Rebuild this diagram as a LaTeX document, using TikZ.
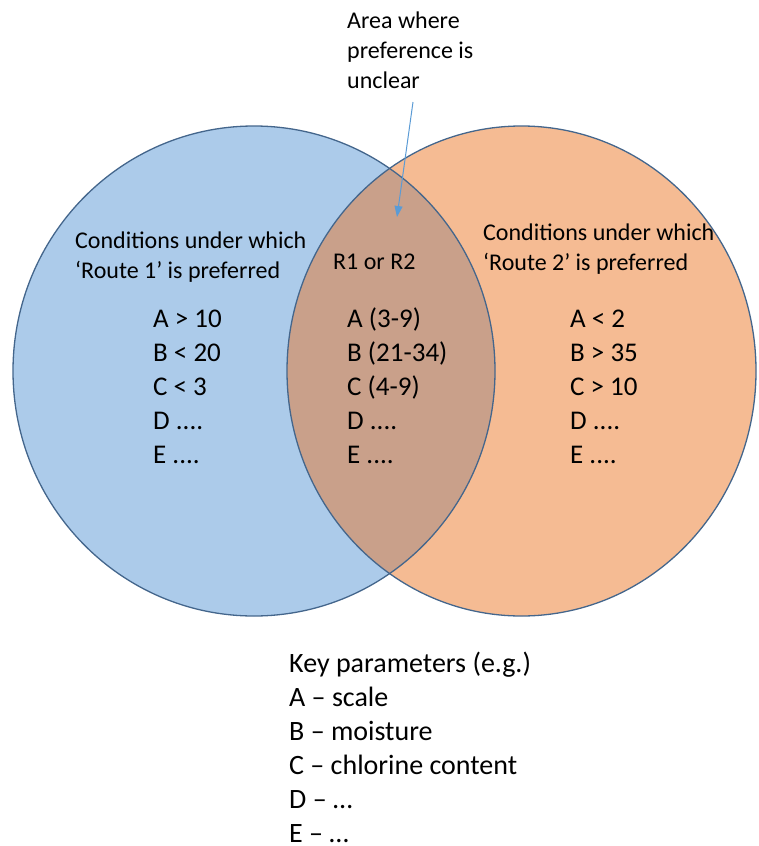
\documentclass[tikz,border=0pt]{standalone}
\usepackage{fontspec}
\setmainfont{Carlito}
\usetikzlibrary{arrows.meta}
\definecolor{lblue}{RGB}{172,203,234}
\definecolor{lorange}{RGB}{245,187,147}
\definecolor{lens}{RGB}{201,160,138}
\definecolor{outl}{RGB}{68,102,140}
\definecolor{arrowblue}{RGB}{91,155,213}
\tikzset{
  setline/.style={draw=outl, line width=1.3pt},
  txt/.style={anchor=north west, inner sep=0pt, align=left, text=black},
  condtxt/.style={txt, font=\fontsize{24}{29.5}\selectfont},
  valtxt/.style={txt, font=\fontsize{27}{34}\selectfont},
  keytxt/.style={txt, font=\fontsize{28}{34}\selectfont},
  pointer/.style={draw=arrowblue, line width=1pt, -{Triangle[length=11pt,width=8pt]}}
}
\newcommand{\toprule}{\rule{0pt}{22pt}}
\begin{document}
\begin{tikzpicture}[x=1pt,y=-1pt]
\useasboundingbox (0,0) rectangle (758,846);
% circles
\fill[lblue] (254,371) ellipse [x radius=241, y radius=245];
\fill[lorange] (521.5,371) ellipse [x radius=234.5, y radius=245];
\begin{scope}
  \clip (254,371) ellipse [x radius=241, y radius=245];
  \fill[lens] (521.5,371) ellipse [x radius=234.5, y radius=245];
\end{scope}
\path[setline] (254,371) ellipse [x radius=241, y radius=245];
\path[setline] (521.5,371) ellipse [x radius=234.5, y radius=245];
% top label and pointer
\node[condtxt, font=\fontsize{24}{30}\selectfont] (area) at (347,11.5) {Area where\\preference is\\unclear};
\coordinate (arrS) at (413,102);
\coordinate (arrE) at (397,217);
\draw[pointer] (arrS) -- (arrE);
% left set
\node[condtxt] (lcond) at (75,232) {Conditions under which\\‘Route 1’ is preferred};
\node[valtxt] (lval) at (153,305.5) {\toprule A > 10\\B < 20\\C < 3\\D ....\\E ....};
% middle
\node[condtxt] (mcond) at (333,253.5) {R1 or R2};
\node[valtxt] (mval) at (347,305.5) {\toprule A (3-9)\\B (21-34)\\C (4-9)\\D ....\\E ....};
% right set
\node[condtxt] (rcond) at (483,224) {Conditions under which\\‘Route 2’ is preferred};
\node[valtxt] (rval) at (570,305.5) {\toprule A < 2\\B > 35\\C > 10\\D ....\\E ....};
% key
\node[keytxt] (key) at (289,652) {Key parameters (e.g.)\\A – scale\\B – moisture\\C – chlorine content\\D – …\\E – …};
\end{tikzpicture}
\end{document}
